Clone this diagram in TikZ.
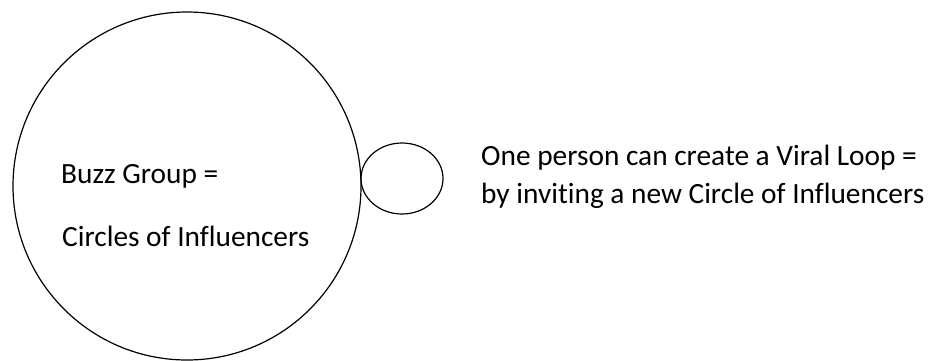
\documentclass[tikz,border=0pt]{standalone}
\usepackage{fontspec}
\setmainfont{Carlito}[Ligatures=NoCommon]
\begin{document}
\begin{tikzpicture}[x=1pt,y=1pt,
  shape line/.style={draw=black,line width=1.2pt},
  label text/.style={inner sep=0pt,anchor=base west,font=\fontsize{29.35}{35}\selectfont}]
\useasboundingbox (0,0) rectangle (931,360);
\fill[white] (0,0) rectangle (931,360);
\draw[shape line] (187,174) circle [radius=174];
\draw[shape line] (402,181.5) ellipse [x radius=41, y radius=35.5];
\node[label text] (bg1) at (61,176.7) {Buzz Group =};
\node[label text] (bg2) at (62,114) {Circles of Influencers};
\node[label text] (vl1) at (481,195) {One person can create a Viral Loop =};
\node[label text] (vl2) at (481,157) {by inviting a new Circle of Influencers};
\end{tikzpicture}
\end{document}
